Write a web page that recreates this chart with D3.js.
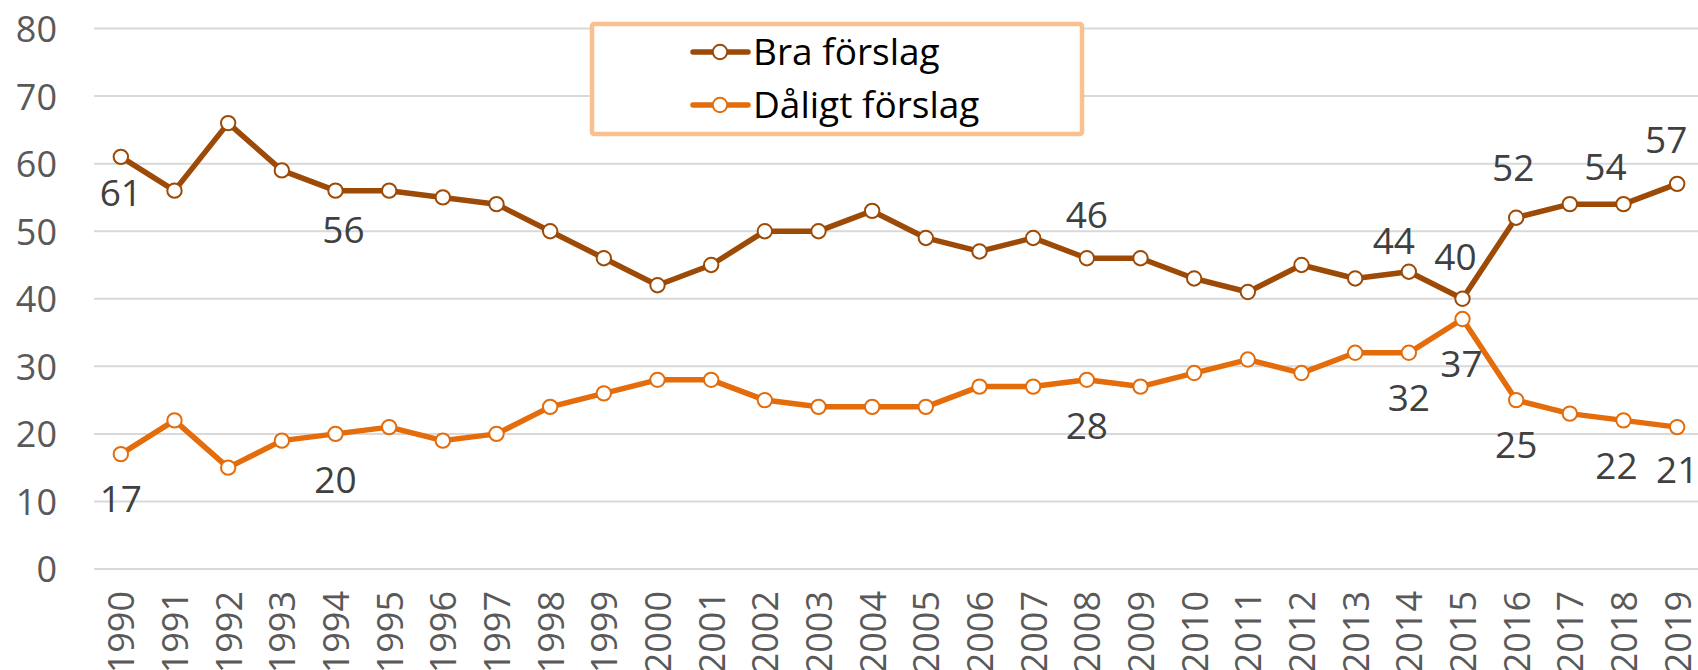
<!DOCTYPE html>
<html>
<head>
<meta charset="utf-8">
<script src="https://cdn.jsdelivr.net/npm/d3@7"></script>
<style>
  body { margin: 0; background: #fff; }
  svg text { font-family: "Open Sans", "Noto Sans", sans-serif; }
</style>
</head>
<body>
<div id="chart"></div>
<script>
var years = d3.range(1990, 2020);
var yTicks = [0, 10, 20, 30, 40, 50, 60, 70, 80];

var braValues = [61, 56, 66, 59, 56, 56, 55, 54, 50, 46, 42, 45, 50, 50, 53, 49, 47, 49, 46, 46, 43, 41, 45, 43, 44, 40, 52, 54, 54, 57];
var daligtValues = [17, 22, 15, 19, 20, 21, 19, 20, 24, 26, 28, 28, 25, 24, 24, 24, 27, 27, 28, 27, 29, 31, 29, 32, 32, 37, 25, 23, 22, 21];

var seriesNames = ["Bra förslag", "Dåligt förslag"];

// years that carry a value label
var braLabelYears = [1990, 1994, 2008, 2014, 2015, 2016, 2018, 2019];
var daligtLabelYears = [1990, 1994, 2008, 2014, 2015, 2016, 2018, 2019];

var cfg = {
	w: 1698,
	h: 670,
	colors: ["#9C4A06", "#E46C0A"],
	grid: "#D9D9D9",
	tickColor: "#595959",
	labelColor: "#404040",
	fontSize: 37,
	markerR: 7.2
};

// hand-nudged label positions (dx, dy from the point), like in the original
var braNudge = {
	1990: [0, 36], 1994: [8, 39], 2008: [0, -44], 2014: [-15, -31],
	2015: [-7, -42], 2016: [-3, -50], 2018: [-18, -37], 2019: [-11, -44]
};
var daligtNudge = {
	1990: [0, 45], 1994: [0, 46], 2008: [0, 46], 2014: [0, 45],
	2015: [-1, 45], 2016: [0, 45], 2018: [-7, 45], 2019: [0, 43]
};

var svg = d3.select("#chart").append("svg")
	.attr("width", cfg.w)
	.attr("height", cfg.h);

var x = d3.scalePoint()
	.domain(years)
	.range([94, 1704])
	.padding(0.5);

var y = d3.scaleLinear()
	.domain([0, 80])
	.range([569, 28.5]);

// gridlines
svg.append("g").selectAll("line")
	.data(yTicks)
	.enter()
	.append("line")
	.attr("x1", 94)
	.attr("x2", cfg.w)
	.attr("y1", function (d) { return y(d); })
	.attr("y2", function (d) { return y(d); })
	.style("stroke", cfg.grid)
	.style("stroke-width", "2px");

// y axis
var yAxis = svg.append("g")
	.attr("transform", "translate(57,0)")
	.call(d3.axisLeft(y).tickValues(yTicks).tickSize(0).tickPadding(0));
yAxis.select(".domain").remove();
yAxis.selectAll("text")
	.attr("fill", cfg.tickColor)
	.style("font-size", "36px")
	.attr("dy", "0.36em");

// x axis (labels run off the bottom edge, as in the original)
var xAxis = svg.append("g")
	.attr("transform", "translate(0,591)")
	.call(d3.axisBottom(x).tickSize(0).tickPadding(0));
xAxis.select(".domain").remove();
xAxis.selectAll("text")
	.attr("fill", cfg.tickColor)
	.style("font-size", "36px")
	.attr("text-anchor", "end")
	.attr("transform", "rotate(-90)")
	.attr("x", 0)
	.attr("y", 0)
	.attr("dy", "0.36em");

var series = [
	{ name: seriesNames[0], values: braValues, labels: braLabelYears, nudge: braNudge },
	{ name: seriesNames[1], values: daligtValues, labels: daligtLabelYears, nudge: daligtNudge }
];

var line = d3.line()
	.x(function (d, i) { return x(years[i]); })
	.y(function (d) { return y(d); });

series.forEach(function (s, k) {
	var g = svg.append("g");
	g.append("path")
		.datum(s.values)
		.attr("d", line)
		.style("fill", "none")
		.style("stroke", cfg.colors[k])
		.style("stroke-width", "5.5px")
		.style("stroke-linejoin", "round");

	g.selectAll("circle")
		.data(s.values)
		.enter()
		.append("circle")
		.attr("cx", function (d, i) { return x(years[i]); })
		.attr("cy", function (d) { return y(d); })
		.attr("r", cfg.markerR)
		.style("fill", "#fff")
		.style("stroke", cfg.colors[k])
		.style("stroke-width", "2px");
});

// value labels on top
series.forEach(function (s) {
	svg.append("g").selectAll("text")
		.data(s.labels)
		.enter()
		.append("text")
		.attr("x", function (yr) { return x(yr) + s.nudge[yr][0]; })
		.attr("y", function (yr) { return y(s.values[years.indexOf(yr)]) + s.nudge[yr][1]; })
		.attr("dy", "0.36em")
		.attr("text-anchor", "middle")
		.attr("fill", cfg.labelColor)
		.style("font-size", cfg.fontSize + "px")
		.text(function (yr) { return s.values[years.indexOf(yr)]; });
});

// legend
var legend = svg.append("g");
legend.append("rect")
	.attr("x", 592)
	.attr("y", 24)
	.attr("width", 490)
	.attr("height", 110)
	.attr("rx", 2)
	.style("fill", "#fff")
	.style("stroke", "#FAC090")
	.style("stroke-width", "4.5px");

var item = legend.selectAll(".item")
	.data(seriesNames)
	.enter()
	.append("g")
	.attr("transform", function (d, i) { return "translate(0," + (52 + i * 53) + ")"; });

item.append("line")
	.attr("x1", 693)
	.attr("x2", 748)
	.style("stroke", function (d, i) { return cfg.colors[i]; })
	.style("stroke-width", "5.5px")
	.style("stroke-linecap", "round");

item.append("circle")
	.attr("cx", 720)
	.attr("r", cfg.markerR)
	.style("fill", "#fff")
	.style("stroke", function (d, i) { return cfg.colors[i]; })
	.style("stroke-width", "2px");

item.append("text")
	.attr("x", 753)
	.attr("dy", "0.36em")
	.attr("fill", "#000")
	.style("font-size", cfg.fontSize + "px")
	.text(function (d) { return d; });
</script>
</body>
</html>
